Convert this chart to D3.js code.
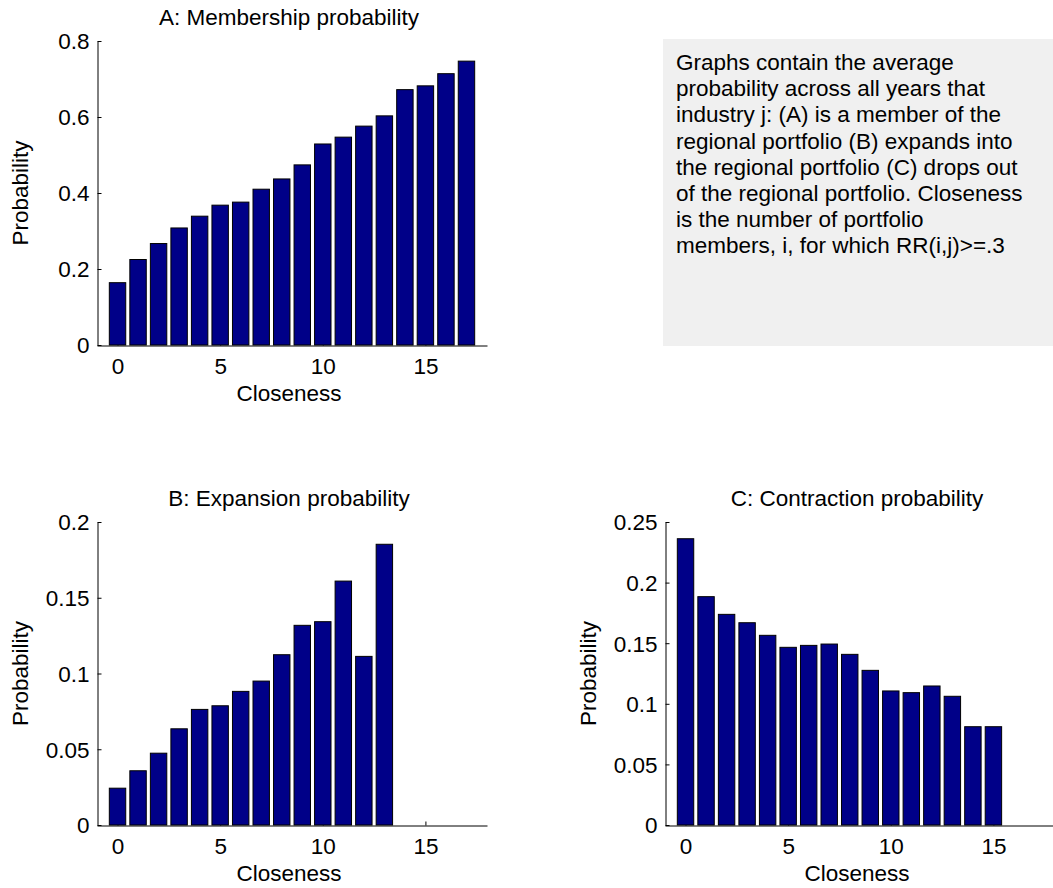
<!DOCTYPE html>
<html>
<head>
<meta charset="utf-8">
<script src="https://cdn.jsdelivr.net/npm/d3@7"></script>
<style>
  body { margin: 0; background: #fff; }
  svg text { font-family: "Liberation Sans", Arial, sans-serif; fill: #000; }
</style>
</head>
<body>
<svg id="chart" width="1053" height="888"></svg>
<script>
// closeness values on the x axis
let closeness = [0, 1, 2, 3, 4, 5, 6, 7, 8, 9, 10, 11, 12, 13, 14, 15, 16, 17, 18];
let xTicks = [0, 5, 10, 15];

// A: membership probability
let membership = [0.164, 0.225, 0.267, 0.308, 0.339, 0.368, 0.376, 0.41, 0.437, 0.474,
  0.529, 0.547, 0.576, 0.603, 0.672, 0.682, 0.714, 0.747, 0];
let yTicksA = [0, 0.2, 0.4, 0.6, 0.8];

// B: expansion probability
let expansion = [0.0243, 0.0358, 0.0474, 0.0635, 0.0763, 0.0787, 0.0882, 0.095, 0.1124, 0.1318,
  0.1342, 0.161, 0.1113, 0.1853, 0, 0, 0, 0, 0];
let yTicksB = [0, 0.05, 0.1, 0.15, 0.2];

// C: contraction probability
let contraction = [0.2362, 0.1884, 0.1738, 0.1669, 0.1565, 0.1466, 0.1482, 0.1493, 0.1408, 0.1276,
  0.1106, 0.1092, 0.1147, 0.1062, 0.0811, 0.0811, 0, 0, 0];
let yTicksC = [0, 0.05, 0.1, 0.15, 0.2, 0.25];

let note = [
  "Graphs contain the average",
  "probability across all years that",
  "industry j: (A) is a member of the",
  "regional portfolio (B) expands into",
  "the regional portfolio (C) drops out",
  "of the regional portfolio. Closeness",
  "is the number of portfolio",
  "members, i, for which RR(i,j)>=.3"
];

const fontSize = "22.5px";
const barColor = "#000088";
let svg = d3.select("#chart");

function drawPanel(p) {
  let x = d3.scaleLinear().domain([-1, 18]).range([p.left, p.right]);
  let y = d3.scaleLinear().domain([0, p.ymax]).range([p.bottom, p.top]);
  let g = svg.append("g");

  // axes first, bars sit on top of the inward ticks
  let xAxis = g.append("g")
    .attr("transform", "translate(0," + (p.bottom + 0.5) + ")")
    .call(d3.axisBottom(x).tickValues(xTicks).tickSizeInner(-4).tickSizeOuter(0).tickPadding(13));
  let yAxis = g.append("g")
    .attr("transform", "translate(" + (p.left + 0.5) + ",0)")
    .call(d3.axisLeft(y).tickValues(p.ticks).tickSizeInner(-4).tickSizeOuter(0).tickPadding(8)
      .tickFormat(d => String(+d.toFixed(2))));
  [xAxis, yAxis].forEach(a => {
    a.attr("font-size", fontSize).attr("font-family", null);
    a.selectAll("path, line").attr("stroke", "#000");
  });
  yAxis.selectAll("text").attr("dy", "0.35em");

  let bw = (x(1) - x(0)) * 0.8;
  g.selectAll("rect.bar")
    .data(closeness.map((c, i) => ({ c: c, v: p.values[i] })))
    .enter().append("rect")
    .attr("class", "bar")
    .attr("x", d => x(d.c) - bw / 2)
    .attr("width", bw)
    .attr("y", d => y(d.v))
    .attr("height", d => y(0) - y(d.v))
    .attr("fill", barColor)
    .attr("stroke", "#000")
    .attr("stroke-width", 1);

  let cx = (p.left + p.right) / 2 - 3;
  g.append("text")
    .attr("x", cx).attr("y", p.top - 16)
    .attr("text-anchor", "middle").style("font-size", fontSize)
    .text(p.title);
  g.append("text")
    .attr("x", cx).attr("y", p.bottom + 56)
    .attr("text-anchor", "middle").style("font-size", fontSize)
    .text("Closeness");
  g.append("text")
    .attr("transform", "translate(" + (p.left - 69) + "," + (p.top + p.bottom) / 2 + ") rotate(-90)")
    .attr("text-anchor", "middle").style("font-size", fontSize)
    .text("Probability");
}

drawPanel({ title: "A: Membership probability", values: membership, ticks: yTicksA, ymax: 0.8,
  left: 97, right: 487, top: 41, bottom: 345 });
drawPanel({ title: "B: Expansion probability", values: expansion, ticks: yTicksB, ymax: 0.2,
  left: 97, right: 487, top: 522, bottom: 825 });
drawPanel({ title: "C: Contraction probability", values: contraction, ticks: yTicksC, ymax: 0.25,
  left: 665, right: 1055, top: 522, bottom: 825 });

// text box
svg.append("rect")
  .attr("x", 663).attr("y", 39)
  .attr("width", 390).attr("height", 307)
  .attr("fill", "#f0f0f0");
svg.append("g").selectAll("text")
  .data(note)
  .enter().append("text")
  .attr("x", 676)
  .attr("y", (d, i) => 70 + i * 26.2)
  .style("font-size", fontSize)
  .text(d => d);
</script>
</body>
</html>
